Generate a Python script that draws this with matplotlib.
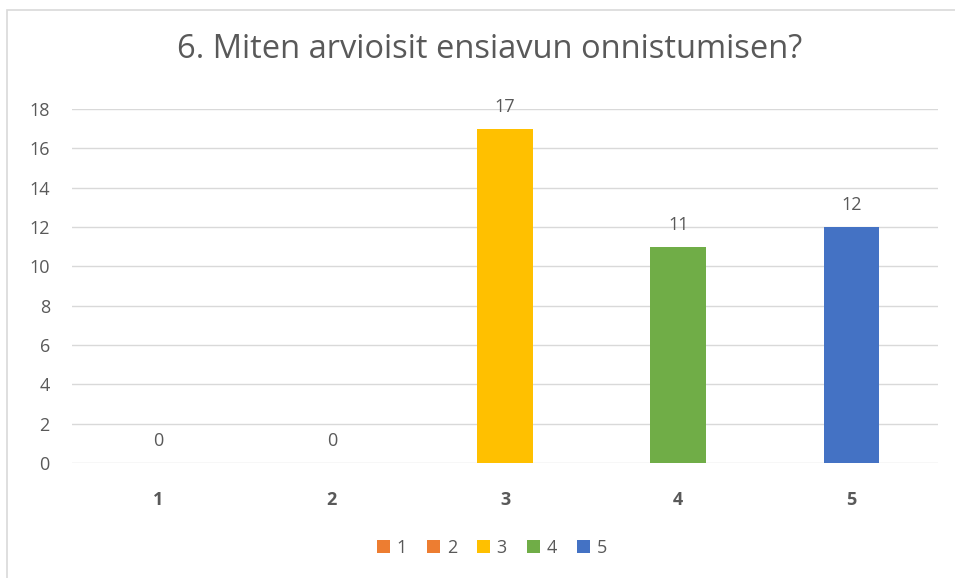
import matplotlib
matplotlib.use('Agg')

from matplotlib import pyplot as plt
from matplotlib.patches import Rectangle, Patch

categories = ['1', '2', '3', '4', '5']
values = [0, 0, 17, 11, 12]
colors = ['#ED7D31', '#ED7D31', '#FFC000', '#70AD47', '#4472C4']
yticks = [0, 2, 4, 6, 8, 10, 12, 14, 16, 18]
title = '6. Miten arvioisit ensiavun onnistumisen?'

plt.rcParams['font.family'] = ['Open Sans', 'DejaVu Sans']
txt = '#595959'

fig = plt.figure(figsize=(9.55, 5.78), dpi=100)
fig.patches.append(Rectangle((7 / 955, -0.05), 1.05, 1.05 - 10 / 578, transform=fig.transFigure,
                             fill=False, edgecolor='#D9D9D9', linewidth=1.2))

ax = fig.add_axes([72 / 955, 1 - 463 / 578, 866 / 955, 354 / 578])
x = range(len(categories))
bars = ax.bar(x, values, width=0.32, color=colors, zorder=3)
for i, v in enumerate(values):
    ax.annotate(str(v), (i, v), xytext=(0, 9), textcoords='offset points',
                ha='center', va='bottom', fontsize=13, color=txt)

ax.set_xlim(-0.5, len(categories) - 0.5)
ax.set_ylim(0, 18)
ax.set_yticks(yticks)
ax.set_xticks(list(x))
ax.set_xticklabels(categories, fontweight='bold')
ax.grid(axis='y', color='#D9D9D9', linewidth=1, zorder=0)
for s in ax.spines.values():
    s.set_visible(False)
ax.tick_params(axis='both', length=0, labelsize=13, labelcolor=txt)
ax.tick_params(axis='y', pad=16)
ax.tick_params(axis='x', pad=20)

fig.text(490 / 955, 1 - 50 / 578, title, ha='center', va='center', fontsize=23.5, color=txt)

handles = [Patch(facecolor=c, label=l) for c, l in zip(colors, categories)]
fig.legend(handles=handles, loc='center', bbox_to_anchor=(492 / 955, 1 - 548 / 578), ncol=5,
           frameon=False, fontsize=13, labelcolor=txt, handlelength=0.75, handleheight=0.75,
           handletextpad=0.35, columnspacing=1.1)

plt.savefig('out.png')
